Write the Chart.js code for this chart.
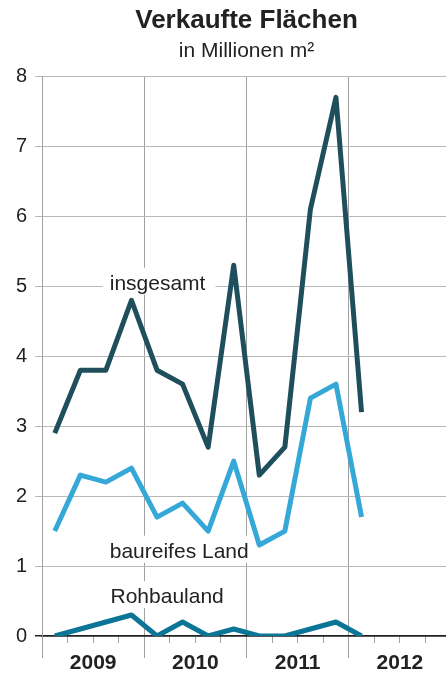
<!DOCTYPE html>
<html>
<head>
<meta charset="utf-8">
<script src="https://cdn.jsdelivr.net/npm/chart.js@4/dist/chart.umd.min.js"></script>
<style>
html,body{margin:0;padding:0;background:#fff;overflow:hidden;width:446px;height:675px;}
canvas{display:block;}
</style>
</head>
<body>
<canvas id="c" width="451" height="675"></canvas>
<script>
// ---- data ----
const quarters = ['2009 Q1','2009 Q2','2009 Q3','2009 Q4','2010 Q1','2010 Q2','2010 Q3','2010 Q4','2011 Q1','2011 Q2','2011 Q3','2011 Q4','2012 Q1'];
const years = ['2009','2010','2011','2012'];
const yTicks = [0,1,2,3,4,5,6,7,8];
const seriesNames = ['insgesamt','baureifes Land','Rohbauland'];
const insgesamt  = [2.9, 3.8, 3.8, 4.8, 3.8, 3.6, 2.7, 5.3, 2.3, 2.7, 6.1, 7.7, 3.2];
const baureifes  = [1.5, 2.3, 2.2, 2.4, 1.7, 1.9, 1.5, 2.5, 1.3, 1.5, 3.4, 3.6, 1.7];
const rohbauland = [0.0, 0.1, 0.2, 0.3, 0.0, 0.2, 0.0, 0.1, 0.0, 0.0, 0.1, 0.2, 0.0];

// ---- styling ----
const FONT = "'Liberation Sans', Arial, Helvetica, sans-serif";
Chart.defaults.font.family = FONT;
Chart.defaults.color = '#222';
const GRID_V = '#a0a0a0';
const GRID_H = '#b8b8b8';
const quartersPerYear = 4;
const totalQuarters = years.length * quartersPerYear;

const toPts = arr => arr.map((v, i) => ({ x: i + 0.5, y: v }));

// text labels placed in data coordinates (quarter units / value)
const notes = [
  { text: seriesNames[0], x: 2.65, y: 4.95 },
  { text: seriesNames[1], x: 2.65, y: 1.12 },
  { text: seriesNames[2], x: 2.68, y: 0.47 }
];
const notePlugin = {
  id: 'notes',
  beforeDatasetsDraw(chart) {
    const { ctx, scales } = chart;
    const x = scales.x, y = scales.y;
    ctx.save();
    ctx.font = "21px " + FONT;
    ctx.textBaseline = 'alphabetic';
    ctx.textAlign = 'left';
    notes.forEach(n => {
      const px = x.getPixelForValue(n.x);
      const py = y.getPixelForValue(n.y);
      const w = ctx.measureText(n.text).width;
      ctx.fillStyle = '#fff';
      ctx.fillRect(px - 7, py - 22, w + 17, 27);
      ctx.fillStyle = '#222';
      ctx.fillText(n.text, px, py);
    });
    ctx.restore();
  }
};

const mk = (label, arr, color) => ({
  label, data: toPts(arr), xAxisID: 'x', yAxisID: 'y',
  borderColor: color, backgroundColor: color, borderWidth: 5,
  pointRadius: 0, pointHoverRadius: 0, tension: 0, fill: false,
  borderJoinStyle: 'round', borderCapStyle: 'butt'
});

new Chart(document.getElementById('c'), {
  type: 'line',
  data: {
    datasets: [
      mk(seriesNames[0], insgesamt, '#1f4f5d'),
      mk(seriesNames[1], baureifes, '#36a8d8'),
      mk(seriesNames[2], rohbauland, '#0b7598')
    ]
  },
  plugins: [notePlugin],
  options: {
    responsive: false,
    animation: false,
    events: [],
    layout: { padding: 0 },
    plugins: {
      legend: { display: false },
      tooltip: { enabled: false },
      title: {
        display: true, text: 'Verkaufte Flächen', fullSize: false,
        font: { size: 26, weight: 'bold' }, color: '#222',
        padding: { top: 5, bottom: 0 }
      },
      subtitle: {
        display: true, text: 'in Millionen m²', fullSize: false,
        font: { size: 21, weight: 'normal' }, color: '#222',
        padding: { top: 2, bottom: 13 }
      }
    },
    scales: {
      x: {
        type: 'linear', position: 'bottom', min: 0, max: totalQuarters,
        afterBuildTicks: s => { s.ticks = Array.from({ length: totalQuarters + 1 }, (_, i) => ({ value: i })); },
        ticks: {
          autoSkip: false, maxRotation: 0, minRotation: 0, padding: -7,
          font: { size: 21, weight: 'bold' }, color: '#222',
          callback: v => (v % quartersPerYear === 2 ? years[(v - 2) / quartersPerYear] : '')
        },
        grid: {
          color: c => (c.tick && c.tick.value % quartersPerYear === 0 ? GRID_V : 'rgba(0,0,0,0)'),
          tickColor: c => (c.tick && c.tick.value % quartersPerYear === 0 ? GRID_V : 'rgba(0,0,0,0)'),
          tickLength: 22, lineWidth: 1
        },
        border: { display: true, color: '#222', width: 1.5 },
        afterFit: s => { s.height = 39; }
      },
      q: {
        type: 'linear', axis: 'x', position: { y: 0 }, min: 0, max: totalQuarters,
        afterBuildTicks: s => { s.ticks = Array.from({ length: totalQuarters + 1 }, (_, i) => ({ value: i })); },
        ticks: { display: false },
        grid: { drawOnChartArea: false, drawTicks: true, tickLength: 7, color: GRID_V, tickColor: GRID_V },
        border: { display: false }
      },
      y: {
        type: 'linear', position: 'left', min: yTicks[0], max: yTicks[yTicks.length - 1],
        afterBuildTicks: s => { s.ticks = yTicks.map(v => ({ value: v })); },
        ticks: { padding: 8, font: { size: 20 }, color: '#222' },
        grid: {
          color: c => (c.tick && c.tick.value === 0 ? '#222' : GRID_H),
          tickColor: c => (c.tick && c.tick.value === 0 ? '#222' : GRID_H),
          lineWidth: c => (c.tick && c.tick.value === 0 ? 1.5 : 1),
          tickLength: 7
        },
        border: { color: GRID_V, width: 1 },
        afterFit: s => { s.width = 42; }
      }
    }
  }
});
</script>
</body>
</html>
